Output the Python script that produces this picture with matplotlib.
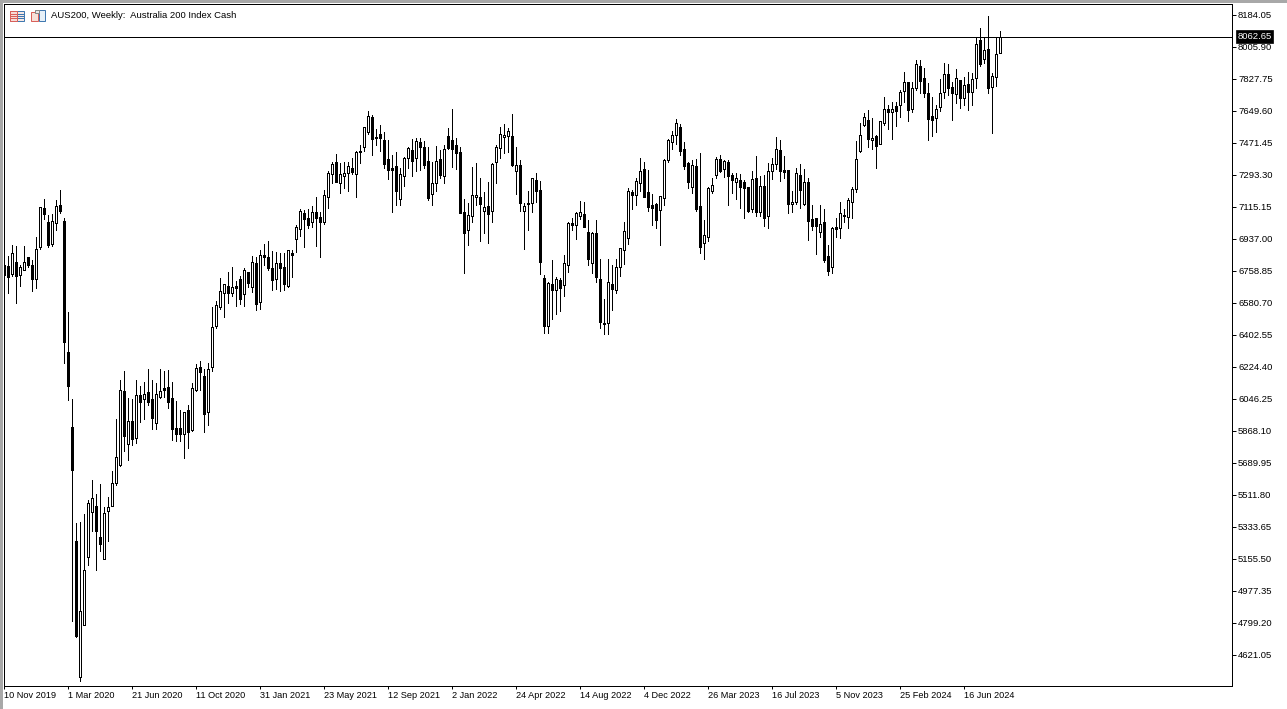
import matplotlib
matplotlib.use("Agg")
import matplotlib.pyplot as plt
from matplotlib.patches import Rectangle
from matplotlib.lines import Line2D
import numpy as np

plt.rcParams['font.family'] = ['Liberation Sans', 'DejaVu Sans']

title = "AUS200, Weekly:  Australia 200 Index Cash"
last_price = 8062.65

opens = [
6792,6787,6743,6809,6737,6765,6837,6792,6715,6893,
7110,7032,6909,7026,7126,7037,6308,5891,5255,4499,
4788,5167,5417,5451,5278,5156,5423,5451,5578,5679,
6091,5796,5924,5829,6068,6046,6085,6046,5913,6057,
6107,6113,6052,5885,5885,5851,5985,5874,6096,6225,
6174,5974,6225,6453,6559,6636,6676,6636,6676,6715,
6631,6753,6670,6803,6587,6848,6837,6776,6715,6803,
6781,6676,6859,6937,6993,7082,7054,7032,7087,7060,
7032,7171,7299,7366,7249,7288,7305,7333,7299,7427,
7449,7533,7616,7505,7522,7488,7383,7333,7344,7160,
7288,7388,7433,7388,7477,7449,7372,7188,7249,7383,
7288,7511,7488,7461,7422,7087,6987,7065,7171,7171,
7093,7121,7093,7366,7444,7505,7511,7511,7316,7349,
7093,7132,7138,7266,7210,6720,6453,6687,6653,6709,
6681,6792,7026,7015,7065,7076,6976,6803,6971,6715,
6464,6470,6687,6653,6781,6876,6943,7199,7182,7249,
7327,7199,7126,7132,7099,7165,7377,7477,7516,7561,
7438,7360,7227,7344,7121,6915,6948,7204,7294,7383,
7327,7366,7294,7255,7266,7255,7227,7104,7277,7087,
7232,7065,7316,7355,7433,7321,7321,7132,7143,7294,
7132,7255,7048,7054,6976,7032,6843,6781,7004,6998,
7065,7060,7143,7216,7427,7572,7600,7488,7511,7466,
7583,7661,7644,7678,7683,7761,7811,7661,7778,7900,
7833,7750,7622,7611,7672,7755,7856,7783,7744,7822,
7722,7800,7755,7833,8045,7939,7995,7783,7839,7973,
]
highs = [
6803,6843,6904,6899,6792,6899,6837,6820,6948,7115,
7160,7071,7076,7154,7210,7054,6531,6046,5356,5362,
5406,5484,5595,5518,5573,5445,5501,5645,5935,6152,
6202,6052,6046,6152,6119,6141,6213,6152,6135,6213,
6202,6208,6141,6035,5985,5974,6013,6135,6241,6258,
6213,6247,6559,6592,6720,6687,6753,6781,6703,6732,
6776,6753,6843,6837,6876,6909,6926,6871,6865,6859,
6859,6876,6876,7015,7104,7099,7104,7121,7171,7087,
7210,7316,7366,7410,7360,7366,7366,7388,7427,7461,
7561,7650,7627,7550,7572,7533,7488,7405,7422,7333,
7394,7449,7494,7499,7499,7483,7449,7366,7455,7433,
7461,7555,7661,7499,7449,7160,7138,7338,7360,7277,
7199,7255,7360,7461,7561,7577,7555,7633,7449,7377,
7138,7204,7277,7305,7260,6737,6698,6820,6726,6720,
6848,7032,7054,7087,7149,7143,7043,6976,7043,6826,
6603,6826,6792,6826,6887,7032,7221,7210,7277,7388,
7366,7321,7188,7138,7176,7383,7494,7538,7605,7577,
7477,7366,7377,7383,7416,7043,7227,7277,7394,7405,
7377,7377,7305,7305,7299,7266,7227,7316,7399,7288,
7294,7360,7388,7505,7488,7399,7321,7204,7333,7355,
7327,7277,7126,7054,7126,7104,6904,7004,7054,7143,
7104,7165,7227,7483,7583,7638,7655,7611,7516,7594,
7728,7683,7700,7700,7767,7867,7811,7811,7934,7934,
7889,7806,7728,7683,7828,7917,7911,7811,7884,7822,
7839,7867,7861,8062,8112,8056,8179,7861,8056,8095,
]
lows = [
6692,6636,6732,6581,6676,6765,6781,6647,6664,6881,
7048,6893,6899,6987,7082,6247,6041,4810,4721,4476,
4788,5122,5311,5094,5200,5156,5255,5451,5567,5673,
5757,5707,5790,5801,5918,5935,6013,5879,5879,6052,
6057,5996,5818,5812,5812,5718,5773,5868,6091,6096,
5863,5902,6202,6442,6548,6503,6581,6620,6564,6575,
6564,6670,6642,6542,6548,6792,6765,6653,6659,6647,
6653,6670,6726,6865,6954,6893,6998,7004,6899,6837,
7021,7110,7249,7255,7193,7221,7204,7299,7171,7360,
7427,7522,7405,7461,7427,7333,7271,7087,7126,7126,
7232,7333,7288,7316,7321,7333,7154,7126,7204,7277,
7249,7438,7338,7327,7082,6748,6904,7032,7126,6926,
6971,6915,7032,7249,7388,7416,7422,7344,7188,7093,
6881,6987,7087,7143,6742,6414,6414,6492,6520,6536,
6620,6753,6987,6937,7048,7004,6792,6748,6698,6442,
6408,6408,6542,6636,6732,6798,6909,7104,7126,7204,
7171,7093,7015,6998,6904,7126,7366,7438,7466,7405,
7327,7221,7193,7093,6859,6826,6926,7193,7277,7310,
7282,7126,7193,7160,7110,7054,7087,7087,7065,7065,
7010,6998,7271,7327,7260,7277,7082,7087,7132,7110,
7126,6932,6987,6853,6948,6809,6737,6748,6948,6943,
7032,6998,7054,7199,7422,7566,7449,7438,7333,7466,
7572,7550,7494,7566,7616,7700,7594,7644,7767,7750,
7728,7488,7511,7533,7650,7722,7739,7600,7694,7666,
7683,7655,7683,7778,7900,7917,7750,7527,7789,7973,
]
closes = [
6737,6726,6859,6732,6781,6809,6792,6715,6881,7115,
7076,6904,7037,7121,7093,6364,6119,5651,4727,4866,
5094,5467,5495,5311,5239,5412,5445,5578,5723,6096,
5841,5924,5824,6068,6030,6074,6030,5941,6074,6091,
6096,6030,5879,5851,5851,5974,5863,6107,6219,6197,
5963,6213,6447,6570,6647,6687,6636,6670,6664,6603,
6765,6692,6809,6575,6848,6837,6776,6709,6803,6776,
6687,6876,6848,7004,7093,7048,7015,7087,7054,7032,
7182,7305,7355,7255,7299,7305,7344,7310,7422,7422,
7561,7622,7494,7499,7499,7355,7321,7321,7204,7299,
7388,7444,7372,7483,7449,7349,7165,7249,7372,7294,
7438,7444,7438,7416,7082,6971,7071,7182,7182,7132,
7115,7076,7355,7449,7522,7516,7538,7349,7349,7138,
7121,7138,7277,7204,6809,6453,6692,6653,6715,6664,
6803,7026,7015,7082,7087,7004,6826,6971,6726,6475,
6470,6698,6659,6781,6887,6982,7204,7182,7260,7316,
7171,7115,7110,7043,7176,7377,7488,7516,7583,7427,
7344,7255,7349,7104,6893,6959,7221,7238,7383,7316,
7372,7288,7266,7277,7227,7221,7093,7271,7087,7232,
7054,7316,7355,7438,7316,7310,7132,7143,7305,7210,
7255,7037,7010,7010,7021,6820,6759,6998,6993,7082,
7071,7154,7216,7383,7516,7616,7494,7499,7455,7594,
7661,7644,7661,7650,7755,7811,7655,7778,7911,7817,
7750,7605,7600,7661,7750,7856,7778,7750,7833,7722,
7794,7755,7828,8023,7911,7989,7778,7845,7967,8062,
]
price_ticks = [8184.05,8005.90,7827.75,7649.60,7471.45,7293.30,7115.15,
               6937.00,6758.85,6580.70,6402.55,6224.40,6046.25,5868.10,
               5689.95,5511.80,5333.65,5155.50,4977.35,4799.20,4621.05]
date_labels = ["10 Nov 2019","1 Mar 2020","21 Jun 2020","11 Oct 2020","31 Jan 2021",
               "23 May 2021","12 Sep 2021","2 Jan 2022","24 Apr 2022","14 Aug 2022",
               "4 Dec 2022","26 Mar 2023","16 Jul 2023","5 Nov 2023","25 Feb 2024","16 Jun 2024"]
date_every = 16   # weekly bars between date labels

W, H = 1287, 709
fig = plt.figure(figsize=(W/100, H/100), dpi=100, facecolor='white')
L, R, T, B = 3.8, 1231.8, 3.8, 685.8
ax = fig.add_axes([L/W, 1-B/H, (R-L)/W, (B-T)/H])

o, h, l, c = map(np.asarray, (opens, highs, lows, closes))
x = np.arange(len(o))
lw = 0.72
ax.vlines(x, l, h, color='black', lw=lw, antialiased=False, zorder=2)
up = c >= o
ax.bar(x, c-o, bottom=o, width=0.42, facecolor=np.where(up, 'white', 'black'),
       edgecolor='black', linewidth=lw, antialiased=False, zorder=3)
ax.axhline(last_price, color='black', lw=lw, antialiased=False, zorder=4)

ax.set_xlim(0, (R-L)/4)
px = (8184.05-4621.05)/640
ax.set_ylim(8184.05-(B-(15.5-0.7))*px, 8184.05+((15.5-0.7)-T)*px)

ax.yaxis.tick_right()
ax.set_yticks(price_ticks)
ax.set_yticklabels([f"{p:.2f}" for p in price_ticks], fontsize=6.8, color='black')
ax.tick_params(axis='y', length=3, width=lw, pad=1.5)
ax.set_xticks(x[::date_every][:len(date_labels)])
ax.set_xticklabels(date_labels, fontsize=6.6, ha='left', color='black')
ax.tick_params(axis='x', length=2.5, width=lw, pad=1.5)
for s in ax.spines.values():
    s.set_linewidth(lw)
    s.set_color('black')

ax.text(1.0 + 5.5/(R-L), last_price, f"{last_price:.2f}", transform=ax.get_yaxis_transform(),
        color='white', fontsize=6.8, va='center', ha='left', zorder=10, clip_on=False,
        bbox=dict(boxstyle='square,pad=0.18', fc='black', ec='black', lw=0.5))

# window chrome and toolbar icons, in pixels
ov = fig.add_axes([0, 0, 1, 1], zorder=20)
ov.set_xlim(0, W); ov.set_ylim(H, 0); ov.axis('off'); ov.patch.set_alpha(0)
ov.add_patch(Rectangle((0, 0), W, 2.5, fc='#a8a8a8', ec='none'))
ov.add_patch(Rectangle((0, 0), 2.5, H, fc='#a8a8a8', ec='none'))
red, blue = '#d9605a', '#3f78b0'
ov.add_patch(Rectangle((9.5, 10.5), 14, 10, fc='#f6e8e4', ec=blue, lw=lw))
ov.add_patch(Rectangle((9.5, 10.5), 7, 10, fc='#f6dcd8', ec=red, lw=lw))
for yy in (13.5, 15.5, 17.5):
    ov.add_line(Line2D([11, 15.5], [yy, yy], color=red, lw=lw))
    ov.add_line(Line2D([18, 22.5], [yy, yy], color=blue, lw=lw))
ov.add_patch(Rectangle((30.5, 11.5), 7, 9, fc='#f8e0d8', ec=red, lw=lw))
ov.add_patch(Rectangle((38.5, 9.5), 6, 11, fc='#e6f0f8', ec=blue, lw=lw))
ov.add_patch(Rectangle((35, 9.5), 4, 3.5, fc='#e8e8e8', ec='#888888', lw=lw))
ov.text(51, 16, title, fontsize=6.8, va='center', ha='left', color='black')

fig.savefig("out.png", dpi=100)
